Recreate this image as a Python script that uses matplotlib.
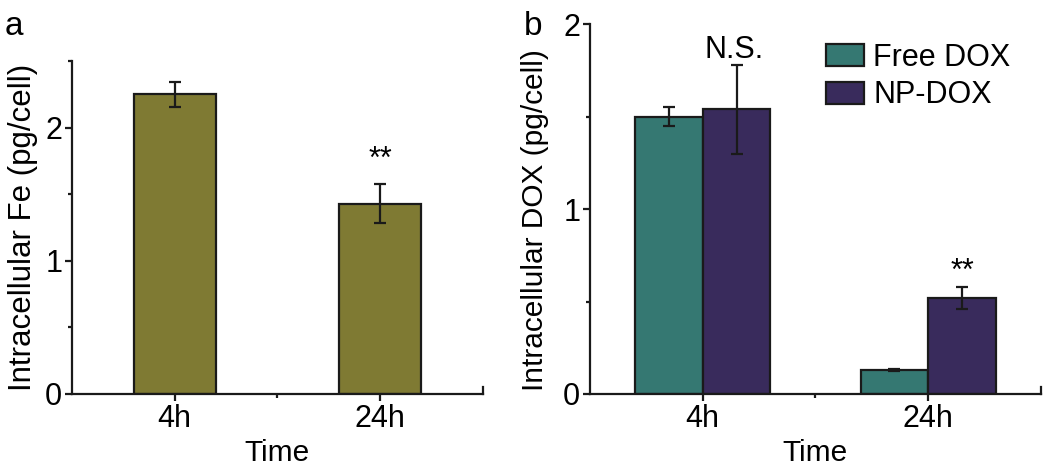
import matplotlib
matplotlib.use("Agg")
import matplotlib.pyplot as plt
import numpy as np
from matplotlib.ticker import MultipleLocator

plt.rcParams['font.family'] = ['Liberation Sans', 'DejaVu Sans']

# data
times = ["4h", "24h"]
fe_mean = [2.25, 1.43]
fe_err = [0.095, 0.15]
free_dox = [1.50, 0.13]
free_err = [0.05, 0.005]
np_dox = [1.54, 0.52]
np_err = [0.24, 0.06]

olive = "#7f7a33"
teal = "#357872"
purple = "#392b5c"
edge = "#1a1a1a"

fig = plt.figure(figsize=(10.5, 4.71), dpi=100)
ax1 = fig.add_axes([0.0686, 0.1635, 0.391, 0.707])
ax2 = fig.add_axes([0.5619, 0.1635, 0.4295, 0.785])

x = np.arange(1, len(times) + 1)
ebar = dict(elinewidth=1.6, capthick=1.6, ecolor=edge)


def style(ax, ymax):
	for s in ["top", "right"]:
		ax.spines[s].set_visible(False)
	for s in ["left", "bottom"]:
		ax.spines[s].set_linewidth(1.6)
		ax.spines[s].set_color(edge)
	ax.set_xlim(0.5, 2.5)
	ax.set_ylim(0, ymax)
	ax.set_xticks(x)
	ax.set_xticklabels(times)
	ax.yaxis.set_major_locator(MultipleLocator(1))
	ax.yaxis.set_minor_locator(MultipleLocator(0.5))
	ax.set_xticks([1.5], minor=True)
	ax.tick_params(which="major", length=5, width=1.6, labelsize=22, color=edge, pad=2)
	ax.tick_params(which="minor", length=3, width=1.6, color=edge)
	ax.set_xlabel("Time", fontsize=21.5, labelpad=4)
	# little end cap at right of x axis
	ax.axvline(2.5, ymin=0, ymax=0.02, color=edge, lw=1.6, clip_on=False)


# panel a
ax1.bar(x, fe_mean, width=0.4, color=olive, edgecolor=edge, linewidth=1.6,
	yerr=fe_err, capsize=4.5, error_kw=ebar)
style(ax1, 2.5)
ax1.set_ylabel("Intracellular Fe (pg/cell)", fontsize=22.5, labelpad=5)
ax1.text(x[1], 1.76, "**", ha="center", va="center", fontsize=22)
fig.text(0.004, 0.925, "a", fontsize=24)

# panel b
w = 0.3
ax2.bar(x - w / 2, free_dox, width=w, color=teal, edgecolor=edge, linewidth=1.6,
	yerr=free_err, capsize=4.5, error_kw=ebar, label="Free DOX")
ax2.bar(x + w / 2, np_dox, width=w, color=purple, edgecolor=edge, linewidth=1.6,
	yerr=np_err, capsize=4.5, error_kw=ebar, label="NP-DOX")
style(ax2, 2)
ax2.set_ylabel("Intracellular DOX (pg/cell)", fontsize=21.5, labelpad=5)
ax2.yaxis.set_label_coords(-0.09, 0.47)
ax2.text(x[0] + 0.14, 1.86, "N.S.", ha="center", va="center", fontsize=22)
ax2.text(x[1] + w / 2, 0.66, "**", ha="center", va="center", fontsize=22)
ax2.legend(loc="upper left", bbox_to_anchor=(0.523, 0.95), frameon=False, fontsize=22,
	handlelength=1.25, handleheight=0.75, handletextpad=0.3, labelspacing=0.25,
	borderaxespad=0, borderpad=0)
fig.text(0.499, 0.925, "b", fontsize=24)

fig.savefig("out.png", dpi=100)
